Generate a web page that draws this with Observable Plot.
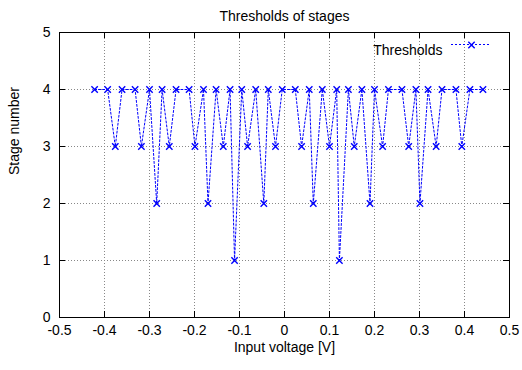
<!DOCTYPE html>
<html><head><meta charset="utf-8">
<script src="https://cdn.jsdelivr.net/npm/d3@7"></script>
<script src="https://cdn.jsdelivr.net/npm/@observablehq/plot@0.6"></script>
<style>body{margin:0;background:#fff}</style>
</head><body><div id="chart"></div>
<script>
const voltages = [-0.422,-0.393,-0.376,-0.361,-0.332,-0.318,-0.300,-0.284,-0.272,-0.256,-0.241,-0.212,-0.199,-0.180,
  -0.170,-0.152,-0.136,-0.121,-0.111,-0.095,-0.082,-0.064,-0.046,-0.036,-0.020,-0.005,0.024,0.038,0.055,0.064,
  0.084,0.100,0.116,0.122,0.142,0.155,0.172,0.190,0.200,0.218,0.231,0.261,0.276,0.292,0.301,0.319,0.337,0.350,
  0.381,0.394,0.412,0.441];
const stages = [4,4,3,4,4,3,4,2,4,3,4,4,3,4,
  2,4,3,4,1,4,3,4,2,4,3,4,4,3,4,2,
  4,3,4,1,4,3,4,2,4,3,4,4,3,4,2,4,3,4,
  4,3,4,4];
const xTicks = [-0.5,-0.4,-0.3,-0.2,-0.1,0,0.1,0.2,0.3,0.4,0.5];
const yTicks = [0,1,2,3,4,5];
const titleText = "Thresholds of stages";
const xLabel = "Input voltage [V]";
const yLabel = "Stage number";
const seriesName = "Thresholds";

const data = voltages.map((v, i) => ({v, s: stages[i]}));
const W = 522, H = 370, mt = 32, mb = 53, ml = 59, mr = 13;
const pw = W - ml - mr, ph = H - mt - mb;
const font = "'Liberation Sans', Arial, Helvetica, sans-serif";
const fs = 14;
const blue = "#0000ff";
const gridStyle = {stroke: "#888", strokeOpacity: 1, strokeDasharray: "1,2", strokeWidth: 1};
const fmt = d => String(+d.toFixed(1));

const chart = Plot.plot({
  width: W, height: H,
  marginTop: mt, marginBottom: mb, marginLeft: ml, marginRight: mr,
  style: {fontFamily: font, fontSize: fs + "px", color: "black", background: "white", overflow: "visible"},
  x: {domain: [-0.5, 0.5], label: null},
  y: {domain: [0, 5], label: null},
  marks: [
    Plot.gridX(xTicks.slice(1, -1), gridStyle),
    Plot.gridY(yTicks.slice(1, -1), gridStyle),
    Plot.ruleX(xTicks, {x: d => d, insetTop: ph - 6, stroke: "black"}),
    Plot.ruleX(xTicks, {x: d => d, insetBottom: ph - 6, stroke: "black"}),
    Plot.ruleY(yTicks, {y: d => d, insetRight: pw - 6, stroke: "black"}),
    Plot.ruleY(yTicks, {y: d => d, insetLeft: pw - 6, stroke: "black"}),
    Plot.axisX({ticks: xTicks, tickSize: 0, tickPadding: 8, tickFormat: fmt, label: null, fontSize: fs}),
    Plot.axisY({ticks: yTicks, tickSize: 0, tickPadding: 9, tickFormat: fmt, label: null, fontSize: fs}),
    Plot.frame({stroke: "black"}),
    Plot.line(data, {x: "v", y: "s", stroke: blue, strokeWidth: 1, strokeDasharray: "2,2"}),
    Plot.dot(data, {x: "v", y: "s", symbol: "times", r: 3, stroke: blue, strokeWidth: 1.4}),
    Plot.text([titleText], {text: d => d, frameAnchor: "top", dy: -21, fontSize: fs}),
    Plot.text([xLabel], {text: d => d, frameAnchor: "bottom", dy: 34, fontSize: fs}),
    Plot.text([yLabel], {text: d => d, frameAnchor: "left", dx: -45, rotate: -90, fontSize: fs}),
    Plot.text([seriesName], {text: d => d, frameAnchor: "top-right", dx: -67, dy: 13, textAnchor: "end", fontSize: fs}),
    Plot.dot([seriesName], {frameAnchor: "top-right", dx: -38, dy: 12.5, symbol: "times", r: 3, stroke: blue, strokeWidth: 1.4})
  ]
});
// legend sample line
const svg = d3.select(chart);
svg.append("line")
  .attr("x1", W - mr - 58).attr("x2", W - mr - 19)
  .attr("y1", mt + 12.5).attr("y2", mt + 12.5)
  .attr("stroke", blue).attr("stroke-width", 1).attr("stroke-dasharray", "2,2");
document.getElementById("chart").appendChild(chart);
</script>
</body></html>
